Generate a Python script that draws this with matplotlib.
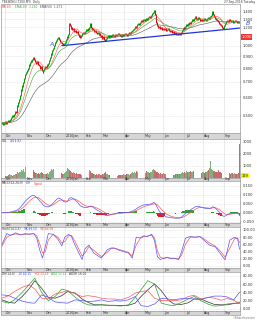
import numpy as np
import pandas as pd
import matplotlib
matplotlib.use("Agg")
import matplotlib.pyplot as plt
from matplotlib.ticker import FixedLocator, FormatStrFormatter, NullLocator
from matplotlib.transforms import blended_transform_factory

TITLE = "TEKSENG (7200.MY)  Daily"
DATE_TEXT = "27-Sep-2016 Tuesday"
END_DATE = "2016-09-27"
HOLIDAYS = ["2015-10-14", "2015-11-10", "2015-12-24", "2015-12-25", "2016-01-01",
            "2016-02-01", "2016-02-08", "2016-02-09", "2016-05-02", "2016-05-23",
            "2016-07-06", "2016-07-07", "2016-08-31", "2016-09-12", "2016-09-16"]

# daily closes
close = [
    0.465, 0.46, 0.465, 0.47, 0.465, 0.47, 0.475, 0.47, 0.48,
    0.49, 0.50, 0.495, 0.505, 0.51, 0.52, 0.515,
    0.55, 0.57, 0.585, 0.61, 0.645,
    0.67, 0.695, 0.72, 0.75, 0.765,
    0.785, 0.80, 0.825, 0.845, 0.86,
    0.875, 0.885, 0.87,
    0.855, 0.84, 0.85, 0.83, 0.82, 0.80, 0.81, 0.785,
    0.765,
    0.78, 0.80, 0.815, 0.805, 0.825, 0.84, 0.865,
    0.89, 0.92, 0.95, 0.975, 1.00,
    1.03, 1.05, 1.07, 1.08, 1.06,
    1.04, 1.03, 1.02, 1.01, 1.02, 1.03,
    1.06, 1.09, 1.12,
    1.25,
    1.22, 1.19, 1.20, 1.17, 1.18, 1.15, 1.16, 1.14, 1.15, 1.12, 1.10,
    1.09, 1.11, 1.13, 1.14, 1.13, 1.15, 1.17, 1.16, 1.18, 1.20,
    1.24,
    1.20, 1.18, 1.17, 1.15, 1.16, 1.14, 1.13, 1.14, 1.12, 1.13, 1.11, 1.10, 1.08, 1.09, 1.06, 1.05,
    1.07, 1.09, 1.10, 1.09, 1.11, 1.10, 1.12, 1.11, 1.10, 1.12, 1.11, 1.12, 1.13, 1.12, 1.11,
    1.10, 1.12, 1.11, 1.12, 1.13, 1.12, 1.11, 1.12, 1.13, 1.14, 1.13, 1.15, 1.16, 1.17,
    1.19, 1.21, 1.20, 1.23, 1.25,
    1.24, 1.26, 1.28, 1.27, 1.29, 1.30, 1.28, 1.31, 1.30, 1.32, 1.33, 1.32, 1.35, 1.37, 1.39, 1.42,
    1.36, 1.30, 1.26, 1.22, 1.20, 1.21, 1.19,
    1.20, 1.18, 1.19, 1.17, 1.18, 1.16, 1.17, 1.18, 1.16, 1.15,
    1.16, 1.14, 1.15, 1.13, 1.14, 1.12, 1.13, 1.12, 1.13, 1.12,
    1.14, 1.16, 1.18, 1.20, 1.19, 1.21, 1.23, 1.22, 1.24, 1.26, 1.25, 1.27, 1.29, 1.28, 1.31, 1.33,
    1.31, 1.30, 1.32, 1.31, 1.29, 1.30, 1.28, 1.29, 1.31, 1.30, 1.29, 1.31, 1.32, 1.31, 1.33, 1.35, 1.37, 1.40,
    1.36, 1.33, 1.31, 1.30, 1.28, 1.27, 1.25, 1.23, 1.22, 1.20, 1.19,
    1.22, 1.25, 1.27, 1.28, 1.27, 1.29, 1.28, 1.27, 1.28, 1.26, 1.27, 1.28, 1.27, 1.26, 1.27, 1.26,
    1.09,
]

# daily volume ('000 shares)
volume = [
    110, 90, 130, 100, 150, 120, 140, 200, 260, 180, 220, 160, 250, 200, 300, 260, 420, 380, 500, 460,
    600, 540, 680, 500, 850, 760, 820, 600, 520, 640, 580, 450, 520, 660, 420, 360, 400, 300, 380, 260,
    340, 420, 380, 300, 260, 320, 280, 350, 300, 420, 560, 700, 640, 680, 520, 480, 600, 560, 440, 400,
    380, 300, 340, 280, 320, 360, 420, 560, 800, 700, 620, 540, 460, 380, 420, 360, 300, 340, 280, 320,
    260, 300, 240, 280, 340, 420, 500, 460, 700, 560, 440, 620, 520, 400, 360, 300, 280, 240, 260, 220,
    300, 260, 240, 200, 280, 320, 360, 420, 300, 260, 220, 200, 240, 180, 220, 260, 200, 180, 240, 220,
    160, 200, 180, 240, 220, 200, 260, 240, 220, 280, 300, 260, 240, 320, 360, 420, 380, 460, 400, 520,
    480, 560, 440, 500, 480, 420, 380, 360, 440, 400, 520, 480, 420, 380, 460, 500, 600, 700, 640, 560,
    480, 420, 360, 300, 340, 280, 320, 360, 300, 260, 240, 280, 300, 220, 260, 240, 200, 280, 240, 220,
    260, 300, 280, 320, 260, 300, 360, 420, 380, 460, 400, 520, 480, 440, 500, 560, 420, 480, 520, 600,
    540, 480, 460, 520, 480, 560, 420, 380, 460, 420, 400, 480, 440, 520, 600, 760, 1350, 700, 640, 560,
    520, 480, 500, 460, 600, 480, 440, 400, 460, 380, 500, 900, 560, 420, 380, 400, 360, 320, 380, 340,
    300, 360, 320, 300, 280, 340, 2815,
]

# slow stochastic (bar index, %K, %D)
stoch_days = [0, 5, 9, 14, 19, 24, 28, 33, 36, 39, 42, 45, 48, 53, 58, 62, 65, 69, 72, 75, 78,
              83, 86, 90, 95, 100, 103, 109, 113, 116, 121, 126, 131, 135, 139, 143, 147, 150,
              155, 158, 161, 164, 168, 171, 175, 178, 183, 186, 190, 195, 200, 205, 209, 215,
              221, 226, 231, 236, 241, 244, 246]
stoch_k = [60, 90, 85, 92, 86, 90, 88, 90, 78, 45, 22, 55, 90, 88, 74, 56, 80, 88, 82, 62, 45,
           18, 48, 58, 36, 27, 22, 45, 50, 50, 44, 40, 36, 22, 80, 78, 84, 82,
           88, 70, 26, 18, 22, 24, 20, 22, 18, 40, 77, 82, 80, 82, 72, 58,
           53, 35, 17, 72, 80, 76, 46.50]
stoch_d = [55, 80, 86, 89, 88, 88, 89, 89, 84, 62, 36, 40, 72, 88, 80, 64, 68, 84, 85, 72, 55,
           28, 36, 54, 44, 32, 26, 38, 48, 50, 46, 42, 38, 28, 58, 76, 82, 82,
           86, 78, 42, 24, 21, 23, 22, 21, 20, 30, 60, 80, 80, 81, 76, 64,
           55, 42, 25, 50, 76, 78, 64.58]

# DMI lines (bar index)
dmi_days = [0, 7, 13, 21, 28, 34, 41, 48, 55, 62, 68, 76, 83, 89, 96, 103, 110, 117, 123,
            131, 138, 144, 151, 158, 165, 172, 178, 186, 193, 199, 206, 214, 220, 227, 233, 240, 246]
minus_di = [34, 32, 26, 19, 15, 14, 34, 28, 17, 15, 14, 22, 20, 18, 19, 22, 18, 20, 19,
            22, 30, 8, 6, 12, 26, 24, 22, 25, 25, 24, 23, 28, 31, 31, 29, 22, 40.15]
plus_di = [26, 32, 42, 52, 58, 48, 26, 24, 36, 40, 44, 36, 30, 32, 30, 26, 24, 24, 22,
           28, 38, 42, 44, 26, 20, 20, 20, 22, 30, 33, 24, 28, 26, 21, 25, 21, 13.19]
adx = [18, 14, 22, 40, 58, 74, 40, 20, 30, 48, 44, 28, 16, 10, 9, 10, 9, 8, 7,
       10, 28, 46, 68, 60, 14, 10, 8, 16, 24, 30, 20, 11, 7, 8, 12, 14, 13.14]
adxr = [22, 16, 14, 30, 48, 68, 50, 28, 26, 32, 42, 38, 24, 16, 10, 10, 9, 9, 8,
        9, 14, 30, 46, 60, 44, 22, 12, 11, 15, 24, 24, 16, 11, 10, 10, 13, 16.01]

price_ticks = [0.5, 0.6, 0.7, 0.8, 0.9, 1.0, 1.2, 1.3, 1.4]
trend_start = (62, 1.00)
trend_end = (246, 1.19)

# ---- derived series ----
dates = pd.bdate_range(end=END_DATE, periods=len(close), freq="C", holidays=HOLIDAYS)
c = pd.Series(close, dtype=float)
o = c.shift(1).fillna(c.iloc[0])
idx = np.arange(len(c))
up = (c >= o).values

ma10 = c.rolling(10, min_periods=1).mean()
ema20 = c.ewm(span=20, adjust=False).mean()
ema50 = c.ewm(span=50, adjust=False).mean()

macd = c.ewm(span=12, adjust=False).mean() - c.ewm(span=26, adjust=False).mean()
signal = macd.ewm(span=9, adjust=False).mean()
hist = macd - signal

hi = np.maximum(o, c)
lo = np.minimum(o, c)

month_starts = []
month_names = []
for i in range(1, len(dates)):
    if dates[i].month != dates[i - 1].month:
        month_starts.append(i)
        if dates[i].month == 1:
            month_names.append(dates[i].strftime("%Y%b"))
        else:
            month_names.append(dates[i].strftime("%b"))

# ---- layout in pixels ----
W, H = 257, 320
fig = plt.figure(figsize=(W / 100, H / 100), dpi=100)
fig.patch.set_facecolor("white")
renderer = fig.canvas.get_renderer()

LEFT, RIGHT = 1, 240
XLIM = (-1.0, len(c) - 0.5)
GRID = "#dcdcdc"
SPINE = "#9a9a9a"
TXT = "#333333"
FS_TICK = 2.6
FS_LEG = 2.1


def px_axes(top, bottom):
    return fig.add_axes([LEFT / W, 1 - bottom / H, (RIGHT - LEFT) / W, (bottom - top) / H])


def style_panel(ax, ticks, fmt):
    ax.set_xlim(*XLIM)
    ax.set_xticks(month_starts)
    ax.tick_params(axis="x", length=0, labelbottom=False)
    ax.yaxis.tick_right()
    ax.yaxis.set_major_locator(FixedLocator(ticks))
    ax.yaxis.set_minor_locator(NullLocator())
    ax.yaxis.set_major_formatter(FormatStrFormatter(fmt))
    ax.tick_params(axis="y", labelsize=FS_TICK, length=1, width=0.3, pad=1,
                   colors=TXT)
    ax.grid(axis="x", color=GRID, lw=0.4)
    ax.grid(axis="y", color=GRID, lw=0.4, ls=(0, (2, 1.5)))
    ax.set_axisbelow(True)
    for s in ax.spines.values():
        s.set_color(SPINE)
        s.set_linewidth(0.5)


def strip(top, bottom):
    ax = px_axes(top, bottom)
    ax.set_facecolor("#d6d6d6")
    ax.set_xlim(*XLIM)
    ax.set_ylim(0, 1)
    ax.set_xticks([])
    ax.set_yticks([])
    for s in ax.spines.values():
        s.set_color(SPINE)
        s.set_linewidth(0.5)
    for pos, name in zip(month_starts, month_names):
        ax.axvline(pos, color="#bbbbbb", lw=0.4)
        ax.text(pos + 1.2, 0.45, name, fontsize=2.3, color=TXT, va="center", ha="left")


def legend_row(y_px, items, x0=2, gap=2.5):
    x = x0
    for text, color in items:
        t = fig.text(x / W, 1 - y_px / H, text, fontsize=FS_LEG, color=color,
                     va="center", ha="left")
        x += t.get_window_extent(renderer).width + gap


# title
fig.text(2 / W, 1 - 2.3 / H, TITLE, fontsize=FS_LEG, color=TXT, va="center")
fig.text(255 / W, 1 - 2.3 / H, DATE_TEXT, fontsize=FS_LEG, color=TXT, va="center", ha="right")

# ---- price ----
ax_p = px_axes(4, 133)
ax_p.set_yscale("log")
ax_p.set_ylim(0.421, 1.511)
style_panel(ax_p, price_ticks, "%.3f")
pad = 0.006
cols = np.where(up, "#00a000", "#e00000")
ax_p.vlines(idx, lo * (1 - pad), hi * (1 + pad), colors=cols, lw=0.7)
ax_p.plot(idx, ema50, color="#555555", lw=0.4)
ax_p.plot(idx, ema20, color="#33aa33", lw=0.4)
ax_p.plot(idx, ma10, color="#ff4d4d", lw=0.4)
ax_p.plot([trend_start[0], trend_end[0]], [trend_start[1], trend_end[1]],
          color="#2233dd", lw=0.9, solid_capstyle="round")
ax_p.text(trend_start[0] - 9, trend_start[1] * 1.01, "A", color="#3344dd",
          fontsize=4.5, style="italic", ha="right", va="center")
bt = blended_transform_factory(ax_p.transAxes, ax_p.transData)
ax_p.text(1.025, 1.25, "B", transform=bt, color="#3344dd", fontsize=4.5,
          style="italic", ha="left", va="center", clip_on=False)
ax_p.text(1.006, close[-1], f"{close[-1]:.3f}", transform=bt, fontsize=FS_TICK,
          color="white", ha="left", va="center", clip_on=False,
          bbox=dict(boxstyle="square,pad=0.15", fc="#ee3333", ec="none"))
legend_row(7, [("MA(10)", "#ff3333"), ("EMA(20)  1.260", "#33aa33"),
               ("EMA(50)  1.271", "#444444")])

strip(133, 139)

# ---- volume ----
ax_v = px_axes(139, 177.5)
ax_v.set_ylim(0, 3210)
style_panel(ax_v, [1000, 2000, 3000], "%d")
vcols = np.where(up, "#7fb07f", "#c86a6a")
ax_v.bar(idx, volume, width=0.75, color=vcols, linewidth=0)
btv = blended_transform_factory(ax_v.transAxes, ax_v.transData)
ax_v.text(1.006, 150, "139", transform=btv, fontsize=FS_TICK, color="#222222",
          ha="left", va="center", clip_on=False,
          bbox=dict(boxstyle="square,pad=0.15", fc="#f5f500", ec="none"))
legend_row(141.5, [("VOL", TXT), ("2814.82", "#3344ff")])

strip(177.5, 181)

# ---- MACD ----
ax_m = px_axes(181, 222.5)
ax_m.set_ylim(-0.0544, 0.176)
style_panel(ax_m, [-0.05, 0.0, 0.05, 0.10, 0.15], "%.3f")
hcols = np.where(hist.values >= 0, "#30a030", "#e02020")
ax_m.bar(idx, hist, width=0.7, color=hcols, linewidth=0)
ax_m.plot(idx, signal, color="#ff5555", lw=0.5)
ax_m.plot(idx, macd, color="#5555ff", lw=0.5)
legend_row(183.5, [("MACD(12,26,9)", TXT), ("Diff", "#3344ff"), ("Signal", "#ff3333")])

strip(222.5, 226.5)

# ---- Stochastic ----
ax_s = px_axes(226.5, 268)
ax_s.set_ylim(-5.6, 109.7)
style_panel(ax_s, [0, 20, 40, 60, 80, 100], "%.2f")
ax_s.plot(stoch_days, stoch_d, color="#ff5555", lw=0.5)
ax_s.plot(stoch_days, stoch_k, color="#5555ff", lw=0.5)
legend_row(229, [("Stoch(14,3,3)", TXT), ("%K:46.50", "#3344ff"), ("%D:64.58", "#ff3333")])

strip(268, 271.5)

# ---- DMI ----
ax_d = px_axes(271.5, 311)
ax_d.set_ylim(-4.8, 90)
style_panel(ax_d, [0, 20, 40, 60, 80], "%.2f")
ax_d.plot(dmi_days, adxr, color="#333333", lw=0.5)
ax_d.plot(dmi_days, adx, color="#30a030", lw=0.5)
ax_d.plot(dmi_days, plus_di, color="#ff5555", lw=0.5)
ax_d.plot(dmi_days, minus_di, color="#5555ff", lw=0.5)
legend_row(274, [("DMI(14,6)", TXT), ("-DI 40.15", "#3344ff"), ("+DI 13.19", "#ff3333"),
                 ("ADX 13.14", "#30a030"), ("ADXR 16.01", TXT)])

strip(311, 315)

fig.text(255 / W, 1 - 318 / H, "©ShareInvestor", fontsize=2.1, color="#777777",
         ha="right", va="center")

fig.savefig("out.png", dpi=100)
